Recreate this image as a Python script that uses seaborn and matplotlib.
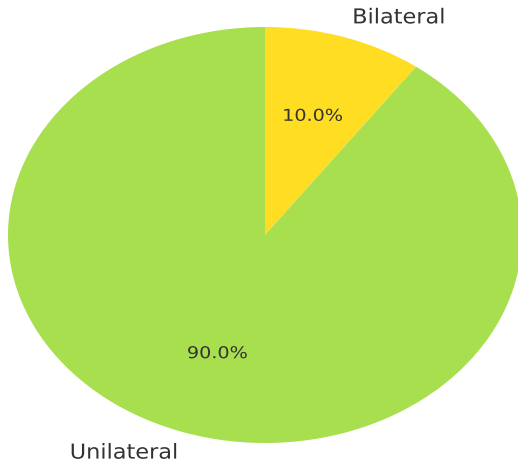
import matplotlib
matplotlib.use("Agg")
import matplotlib.pyplot as plt
import seaborn as sns
from matplotlib.patheffects import AbstractPathEffect
from matplotlib.transforms import Affine2D

labels = ["Bilateral", "Unilateral"]
values = [10.0, 90.0]
colors = ["#FFDD22", "#A8DF4F"]


class Stretch(AbstractPathEffect):
    """Stretch text horizontally about its alignment anchor."""
    def __init__(self, sx, ha):
        super().__init__()
        self.sx = sx
        self.ha = ha

    def draw_path(self, renderer, gc, tpath, affine, rgbFace=None):
        ext = tpath.get_extents()
        if self.ha == 'left':
            a = ext.x0
        elif self.ha == 'right':
            a = ext.x1
        else:
            a = (ext.x0 + ext.x1) / 2
        pre = Affine2D().translate(-a, 0).scale(self.sx, 1).translate(a, 0)
        renderer.draw_path(gc, tpath, pre + affine, rgbFace)


sns.set_style("white")
plt.rcParams['font.family'] = ['DejaVu Sans']

fig = plt.figure(figsize=(5.18, 4.64), dpi=100)
ax = fig.add_axes([8/518, 20/464, 514/518, 416/464])
wedges, texts, autotexts = ax.pie(
    values, labels=labels, colors=sns.color_palette(colors),
    autopct="%1.1f%%", startangle=90, counterclock=False,
    pctdistance=0.6, labeldistance=1.1,
    wedgeprops=dict(linewidth=0),
    textprops=dict(color="#333333"))
for t in texts:
    t.set_fontsize(14.8)
    t.set_path_effects([Stretch(1.09, t.get_ha())])
for t in autotexts:
    t.set_fontsize(11.8)
    t.set_path_effects([Stretch(1.17, t.get_ha())])
ax.set_aspect('auto')
ax.set_xlim(-1, 1)
ax.set_ylim(-1, 1)
ax.axis('off')
fig.savefig("out.png", dpi=100)
